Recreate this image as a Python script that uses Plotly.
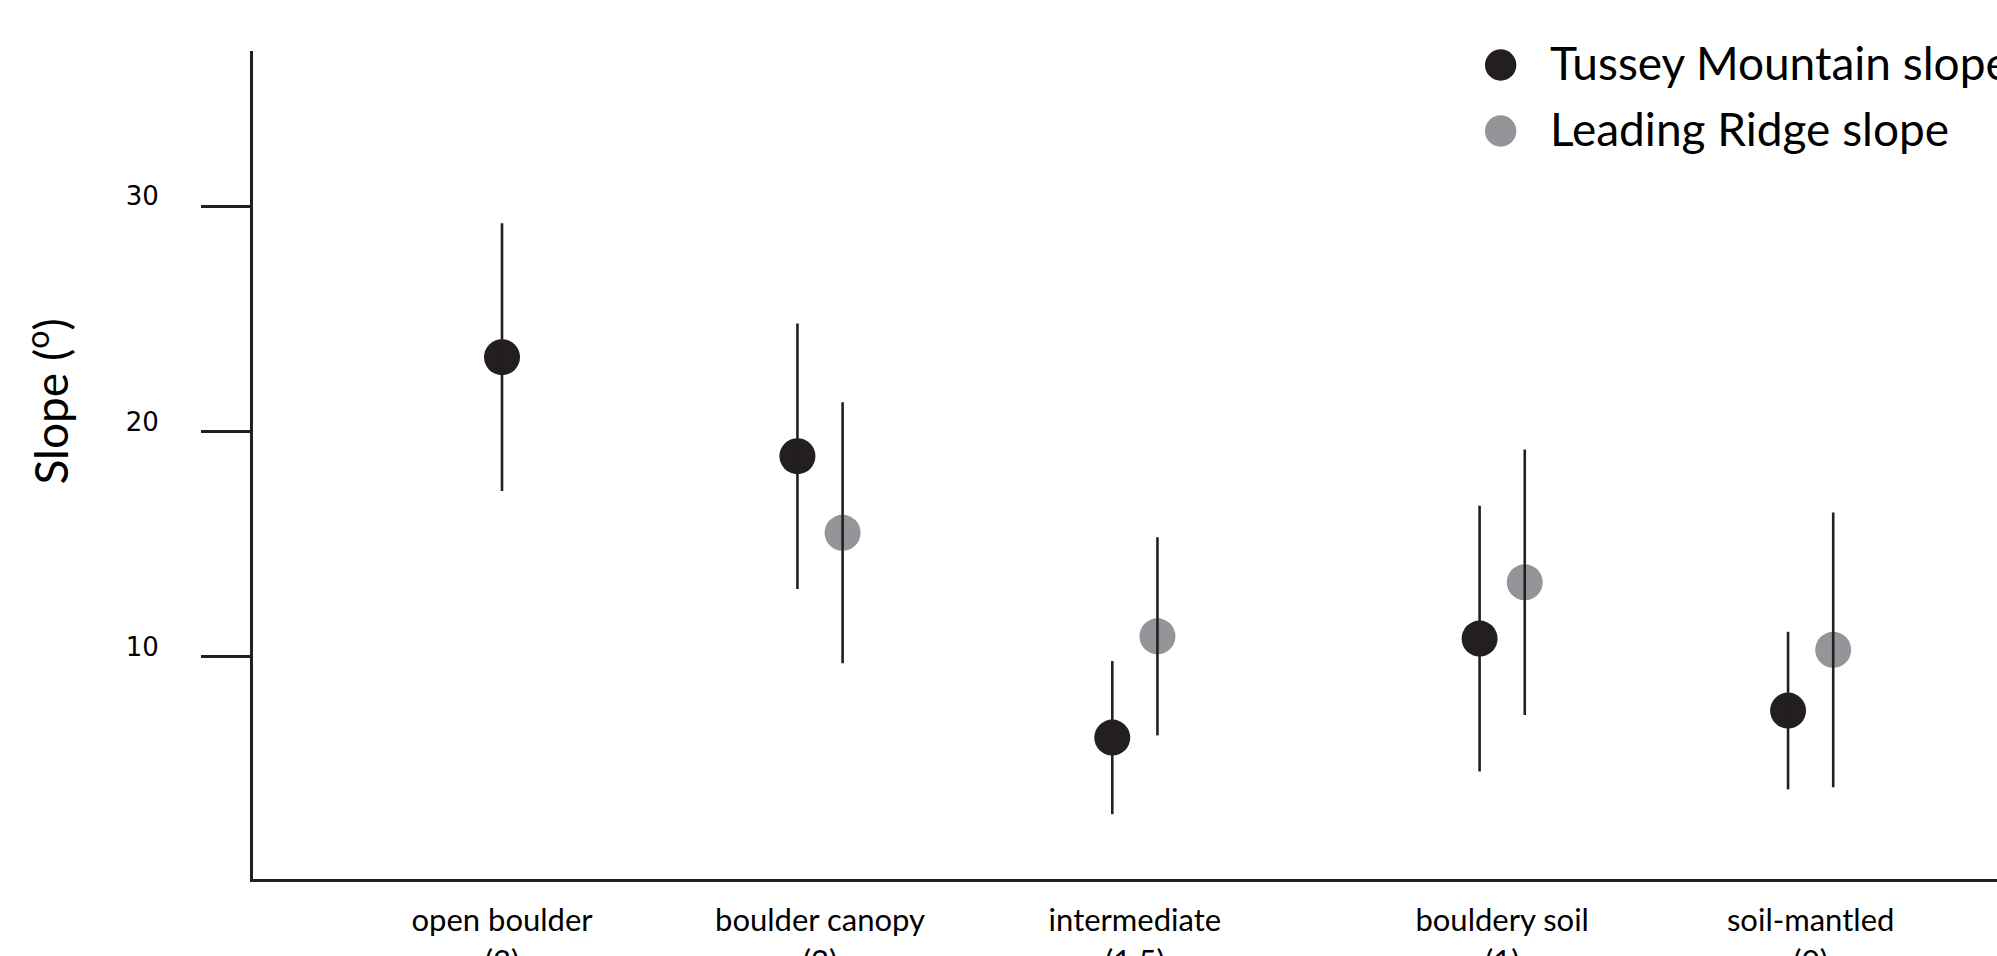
import plotly.graph_objects as go

# ---------------- data ----------------
categories = ["open boulder", "boulder canopy", "intermediate", "bouldery soil", "soil-mantled"]
cover_scores = ["(3)", "(2)", "(1.5)", "(1)", "(0)"]
series_names = ["Tussey Mountain slope", "Leading Ridge slope"]
tussey_mean = [23.3, 18.9, 6.4, 10.8, 7.6]
tussey_sd = [5.95, 5.9, 3.4, 5.9, 3.5]
leading_mean = [None, 15.5, 10.9, 13.3, 10.3]
leading_sd = [None, 5.8, 4.4, 5.9, 6.1]
y_ticks = [10, 20, 30]
y_title = "Slope (<sup>o</sup>)"

# ---------------- layout positions / styles ----------------
cat_pos = [0, 1, 1.99, 3.145, 4.115]
pair_offset = 0.071
BLACK = "#231f20"
GREY = "#939598"
MARKER_SIZE = 36
TEXT_FONT = "Lato"

tx, ty, ts = [], [], []
lx, ly, ls = [], [], []
for p, tm, tsd, lm, lsd in zip(cat_pos, tussey_mean, tussey_sd, leading_mean, leading_sd):
    has_leading = lm is not None
    tx.append(p - pair_offset if has_leading else p)
    ty.append(tm)
    ts.append(tsd)
    if has_leading:
        lx.append(p + pair_offset)
        ly.append(lm)
        ls.append(lsd)

fig = go.Figure()
fig.add_trace(go.Scatter(x=tx, y=ty, mode="markers", name=series_names[0],
                         marker=dict(size=MARKER_SIZE, color=BLACK), showlegend=False))
fig.add_trace(go.Scatter(x=lx, y=ly, mode="markers", name=series_names[1],
                         marker=dict(size=MARKER_SIZE, color=GREY), showlegend=False))
# whiskers drawn on top of the markers
fig.add_trace(go.Scatter(x=tx, y=ty, mode="markers", marker=dict(size=2, opacity=0),
                         error_y=dict(type="data", array=ts, visible=True, color=BLACK,
                                      thickness=2.6, width=0),
                         showlegend=False, hoverinfo="skip"))
fig.add_trace(go.Scatter(x=lx, y=ly, mode="markers", marker=dict(size=2, opacity=0),
                         error_y=dict(type="data", array=ls, visible=True, color=BLACK,
                                      thickness=2.6, width=0),
                         showlegend=False, hoverinfo="skip"))

# legend drawn as circles + text
legend_marker_y = [0.9831, 0.9034]
legend_text_y = [0.9867, 0.9070]
legend_colors = [BLACK, GREY]
shapes = []
annotations = []
for name, my, ty_, col in zip(series_names, legend_marker_y, legend_text_y, legend_colors):
    shapes.append(dict(type="circle", xref="paper", yref="paper",
                       xsizemode="pixel", ysizemode="pixel",
                       xanchor=0.7154, yanchor=my, x0=-15.7, x1=15.7, y0=-15.7, y1=15.7,
                       fillcolor=col, line=dict(width=0)))
    annotations.append(dict(text=name, xref="paper", yref="paper", x=0.7425, y=ty_,
                            xanchor="left", yanchor="middle", showarrow=False,
                            font=dict(family=TEXT_FONT, size=46, color="#000000")))

# y-axis title (placed above the axis centre, as in the reference)
annotations.append(dict(text=y_title, xref="paper", yref="paper", x=-0.118, y=0.577,
                        xanchor="center", yanchor="middle", textangle=-90, showarrow=False,
                        font=dict(family=TEXT_FONT, size=46, color="#000000")))

fig.update_layout(
    width=1997, height=956,
    margin=dict(l=253, r=0, t=51, b=77, autoexpand=False),
    plot_bgcolor="white", paper_bgcolor="white",
    showlegend=False,
    shapes=shapes, annotations=annotations,
    xaxis=dict(range=[-0.783, 4.701], showgrid=False, zeroline=False, automargin=False,
               showline=True, linecolor=BLACK, linewidth=3,
               ticks="", tickvals=cat_pos,
               ticktext=[f"{c}<br>{s}" for c, s in zip(categories, cover_scores)],
               tickfont=dict(family=TEXT_FONT, size=31, color="#000000"),
               ticklabelstandoff=12),
    yaxis=dict(range=[0.12, 36.9], showgrid=False, zeroline=False, automargin=False,
               showline=True, linecolor=BLACK, linewidth=3,
               ticks="outside", ticklen=49, tickwidth=2.5, tickcolor=BLACK,
               tickvals=y_ticks, ticktext=[str(v) for v in y_ticks],
               tickfont=dict(family="DejaVu Sans", size=26, color="#000000"),
               ticklabelstandoff=37, ticklabelshift=-10),
)

fig.write_html("out.html", config={"displayModeBar": False},
               post_script="document.body.style.margin='0';document.body.style.overflow='hidden';")
